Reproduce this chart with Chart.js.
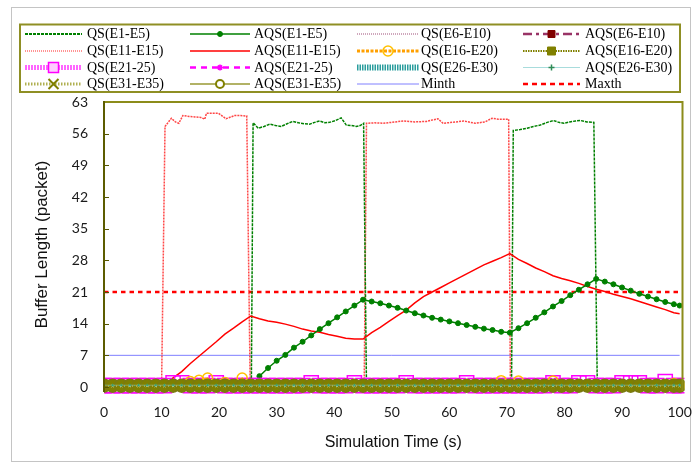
<!DOCTYPE html>
<html><head><meta charset="utf-8">
<script src="https://cdn.jsdelivr.net/npm/chart.js"></script>
<style>html,body{margin:0;padding:0;background:#fff}canvas{display:block}</style>
</head><body>
<canvas id="c" width="694" height="465"></canvas>
<script>
// ---------------- DATA ----------------
const seriesNames = ["QS(E1-E5)","AQS(E1-E5)","QS(E6-E10)","AQS(E6-E10)","QS(E11-E15)","AQS(E11-E15)","QS(E16-E20)","AQS(E16-E20)","QS(E21-25)","AQS(E21-25)","QS(E26-E30)","AQS(E26-E30)","QS(E31-E35)","AQS(E31-E35)","Minth","Maxth"];
const xTickValues = [0,10,20,30,40,50,60,70,80,90,100];
const yTickValues = [0,7,14,21,28,35,42,49,56,63];

// sampling times of the averaged-queue / near-zero series (s)
const tSample = [0,1.5,3,4.5,6,7.5,9,10.5,12,13.5,15,16.5,18,19.5,21,22.5,24,25.5,27,28.5,30,31.5,33,34.5,36,37.5,39,40.5,42,43.5,45,46.5,48,49.5,51,52.5,54,55.5,57,58.5,60,61.5,63,64.5,66,67.5,69,70.5,72,73.5,75,76.5,78,79.5,81,82.5,84,85.5,87,88.5,90,91.5,93,94.5,96,97.5,99,100];
const tCoarse = [0,10,20,30,40,50,60,70,80,90,100];

// QS(E1-E5)
const qsE1E5_t = [0,25.6,25.9,26.8,27.8,28.8,29.8,30.8,31.8,32.8,33.8,34.8,35.7,36.6,37.5,38.4,39.2,40.2,41.2,42.1,43.0,43.8,44.5,45.1,45.6,70.8,71.1,72.3,73.5,74.6,75.8,77.0,78.1,79.0,79.9,80.9,81.9,82.8,83.9,85.1,85.7,100];
const qsE1E5_v = [0,0,58.4,57.2,57.6,58.1,57.8,57.6,58.2,58.7,58.4,58.2,58.1,58.5,58.8,58.4,58.5,58.9,59.5,57.9,57.8,57.6,57.8,58.3,0,0,56.7,56.9,57.2,57.6,57.9,58.5,58.9,58.5,58.3,58.6,58.8,58.9,58.6,58.5,0,0];
// AQS(E1-E5)
const aqsE1E5 = [0,0,0,0,0,0,0,0,0,0,0,0,0,0,0,0,0,0,2.4,4.2,5.8,7.1,8.7,10.0,11.4,12.8,14.1,15.4,16.7,18.0,19.3,18.9,18.5,18.0,17.5,16.9,16.3,15.8,15.3,14.9,14.5,14.1,13.7,13.3,12.9,12.6,12.2,12.0,13.0,14.1,15.3,16.5,17.8,19.0,20.3,21.5,22.7,23.9,23.3,22.7,22.0,21.3,20.6,20.0,19.4,18.8,18.3,18.0];
// QS(E6-E10), AQS(E6-E10)
const qsE6E10 = [0,0,0,0,0,0,0,0,0,0,0];
const aqsE6E10 = [0,0,0,0,0,0,0,0,0,0,0];
// QS(E11-E15)
const qsE11E15_t = [0,10.0,10.6,11.7,12.4,13.0,13.7,14.8,15.8,16.8,17.5,17.8,18.8,19.9,21.2,22.7,23.7,24.8,25.4,45.2,45.6,47.0,48.5,50.0,52.0,54.0,56.0,58.0,58.9,60.5,62.5,64.5,66.2,67.4,68.5,70.3,70.6,100];
const qsE11E15_v = [0,0,57.6,59.4,58.6,58.3,60.0,59.8,59.7,59.6,59.2,60.5,60.5,60.5,59.3,60.0,60.0,59.9,0,0,58.3,58.4,58.3,58.5,58.8,58.6,58.7,59.3,58.3,58.5,58.8,58.3,58.6,59.4,59.2,59.2,0,0];
// AQS(E11-E15)
const aqsE11E15 = [0,0,0,0,0,0,0,0.3,2.0,3.4,5.2,6.8,8.4,10.0,11.7,13.0,14.4,15.7,15.1,14.6,14.3,13.9,13.4,12.8,12.4,12.1,11.6,11.2,10.8,10.6,10.6,12.0,13.2,14.5,15.8,17.0,18.6,20.0,21.0,22.0,23.0,24.0,25.0,26.0,27.0,27.8,28.6,29.5,28.2,27.3,26.3,25.5,24.6,24.0,23.5,22.9,22.2,21.6,21.1,20.5,20.0,19.5,18.9,18.3,17.7,17.1,16.4,16.2];
// QS(E16-E20), AQS(E16-E20)
const qsE16E20 = [0.3,0.3,0.3,0.3,0.3,0.3,0.3,0.3,0.3,0.3,1.2,1.5,2.0,0.3,1.0,0.3,2.0,0.3,0.3,0.3,0.3,0.3,0.3,0.3,0.3,0.3,0.3,0.3,0.3,0.3,0.3,0.3,0.3,0.3,0.3,0.3,0.3,0.3,0.3,0.3,0.3,0.3,0.3,0.3,0.3,0.3,1.4,0.3,1.3,0.3,0.3,0.3,1.3,0.3,0.3,0.3,0.3,0.3,0.3,0.3,0.3,0.3,0.3,0.3,0.3,0.3,0.8,0.3];
const aqsE16E20 = [0,0,0,0,0,0,0,0,0,0,0];
// QS(E21-25), AQS(E21-25)
const qsE21E25 = [0.3,0.3,0.3,0.3,0.3,0.3,0.3,0.3,0.9,0.9,0.3,0.3,0.3,0.9,0.3,0.3,0.3,0.3,0.3,0.3,0.3,0.3,0.3,0.3,0.9,0.3,0.3,0.3,0.3,0.9,0.3,0.3,0.3,0.3,0.3,0.9,0.3,0.3,0.3,0.3,0.3,0.3,0.9,0.3,0.3,0.3,0.3,0.3,0.3,0.3,0.3,0.3,0.9,0.3,0.3,0.9,0.9,0.3,0.3,0.3,0.9,0.9,0.9,0.3,0.3,1.2,0.3,0.3];
const aqsE21E25 = [0,0,0,0,0,0,0,0,0,0,0];
// QS(E26-E30), AQS(E26-E30)
const qsE26E30 = [0.3,0.3,0.3,0.3,0.3,0.3,0.3,0.3,0.3,0.3,0.3];
const aqsE26E30 = [0.4,0.4,0.4,0.4,0.4,0.4,0.4,0.4,0.4,0.4,0.4,0.4,0.4,0.4,0.4,0.4,0.4,0.4,0.4,0.4,0.4,0.4,0.4,0.4,0.4,0.4,0.4,0.4,0.4,0.4,0.4,0.4,0.4,0.4,0.4,0.4,0.4,0.4,0.4,0.4,0.4,0.4,0.4,0.4,0.4,0.4,0.4,0.4,0.4,0.4,0.4,0.4,0.4,0.4,0.4,0.4,0.4,0.4,0.4,0.4,0.4,0.4,0.4,0.4,0.4,0.4,0.4,0.4];
// QS(E31-E35), AQS(E31-E35)
const qsE31E35 = [0.2,0.2,0.2,0.2,0.2,0.2,0.2,0.2,0.2,0.2,0.2,0.2,0.2,0.2,0.2,0.2,0.2,0.2,0.2,0.2,0.2,0.2,0.2,0.2,0.2,0.2,0.2,0.2,0.2,0.2,0.2,0.2,0.2,0.2,0.2,0.2,0.2,0.2,0.2,0.2,0.2,0.2,0.2,0.2,0.2,0.2,0.2,0.2,0.2,0.2,0.2,0.2,0.2,0.2,0.2,0.2,0.2,0.2,0.2,0.2,0.2,0.2,0.2,0.2,0.2,0.2,0.2,0.2];
const aqsE31E35 = [0.3,0.3,0.3,0.3,0.3,0.3,0.3,0.3,0.3,0.3,0.3,0.3,0.3,0.3,0.3,0.3,0.3,0.3,0.3,0.3,0.3,0.3,0.3,0.3,0.3,0.3,0.3,0.3,0.3,0.3,0.3,0.3,0.3,0.3,0.3,0.3,0.3,0.3,0.3,0.3,0.3,0.3,0.3,0.3,0.3,0.3,0.3,0.3,0.3,0.3,0.3,0.3,0.3,0.3,0.3,0.3,0.3,0.3,0.3,0.3,0.3,0.3,0.3,0.3,0.3,0.3,0.3,0.3];
// thresholds
const thT = [0,100];
const minthV = [7,7];
const maxthV = [21,21];

// ---------------- STYLES ----------------
const legendStyles = [
  {color:'#008000', w:2, dash:[3,1]},
  {color:'#008000', w:1.5, dash:[], m:{s:'circle', r:2.5, fill:'#008000', stroke:'#008000', lw:1}},
  {color:'#a0507a', w:1, dash:[1,1]},
  {color:'#993366', w:2.5, dash:[9,4,3,4], m:{s:'rect', r:3.5, fill:'#800000', stroke:'#800000', lw:1}},
  {color:'#ff7070', w:1.5, dash:[1,1]},
  {color:'#ff0000', w:1.5, dash:[]},
  {color:'#ffa000', w:3, dash:[3,1.5], m:{s:'circle', r:5, fill:null, stroke:'#ffc000', lw:1.5}},
  {color:'#808000', w:2, dash:[1.5,1], m:{s:'rect', r:4, fill:'#808000', stroke:'#808000', lw:1}},
  {color:'#ff66ff', w:5, dash:[2,1], m:{s:'rect', r:5, fill:'#ffccff', stroke:'#ff00ff', lw:1.5}},
  {color:'#ff00ff', w:2.5, dash:[6,5], m:{s:'star', r:3, fill:null, stroke:'#ff00ff', lw:1.5}},
  {color:'#2a9d9d', w:6, dash:[1.5,1]},
  {color:'#a8dcdc', w:1, dash:[], m:{s:'cross', r:3, fill:null, stroke:'#2e8b57', lw:1.5}},
  {color:'#b0b050', w:3, dash:[1.5,1.5], m:{s:'crossRot', r:5, fill:null, stroke:'#808000', lw:2}},
  {color:'#999933', w:1.5, dash:[], m:{s:'circle', r:4, fill:'#ffffff', stroke:'#808000', lw:2}},
  {color:'#8080ff', w:1, dash:[]},
  {color:'#ff0000', w:2.5, dash:[5,4]}
];

function pts(xs, ys){ return xs.map((x,i)=>({x:x, y:ys[i]})); }
const bandClip = {left:0, right:2, top:20, bottom:12};

const datasets = [
  {label:seriesNames[0], data:pts(qsE1E5_t, qsE1E5_v), borderColor:'#008000', borderWidth:1.5, borderDash:[3,1], pointRadius:0, order:7},
  {label:seriesNames[1], data:pts(tSample, aqsE1E5), borderColor:'#008000', borderWidth:1.5, pointRadius:2.5, pointStyle:'circle', pointBackgroundColor:'#008000', pointBorderColor:'#008000', pointBorderWidth:1, order:5},
  {label:seriesNames[2], data:pts(tCoarse, qsE6E10), borderColor:'#a0507a', borderWidth:1, pointRadius:0, order:4},
  {label:seriesNames[3], data:pts(tCoarse, aqsE6E10), borderColor:'#993366', borderWidth:2, pointRadius:0, order:4},
  {label:seriesNames[4], data:pts(qsE11E15_t, qsE11E15_v), borderColor:'rgba(255,50,50,0.9)', borderWidth:1.5, borderDash:[2,1], pointRadius:0, order:8},
  {label:seriesNames[5], data:pts(tSample, aqsE11E15), borderColor:'#ff0000', borderWidth:1.5, pointRadius:0, order:6},
  {label:seriesNames[6], data:pts(tSample, qsE16E20), borderColor:'#ffa000', borderWidth:1.5, pointRadius:5, pointStyle:'circle', pointBackgroundColor:'rgba(0,0,0,0)', pointBorderColor:'#ffc000', pointBorderWidth:1.5, order:3, clip:bandClip},
  {label:seriesNames[7], data:pts(tCoarse, aqsE16E20), borderColor:'#808000', borderWidth:2, pointRadius:0, order:4},
  {label:seriesNames[8], data:pts(tSample, qsE21E25), borderColor:'#ff00ff', borderWidth:2, pointRadius:10, pointStyle:'rect', pointBackgroundColor:'rgba(255,255,255,0)', pointBorderColor:'#ff00ff', pointBorderWidth:1.5, order:3.5, clip:bandClip},
  {label:seriesNames[9], data:pts(tCoarse, aqsE21E25), borderColor:'#ff00ff', borderWidth:2, pointRadius:0, order:4},
  {label:seriesNames[10], data:pts(tCoarse, qsE26E30), borderColor:'rgba(64,184,184,0.7)', borderWidth:1, borderDash:[1,4], pointRadius:0, order:1, clip:bandClip},
  {label:seriesNames[11], data:pts(tSample, aqsE26E30), borderColor:'rgba(160,220,220,0.4)', borderWidth:1, pointRadius:1.5, pointStyle:'cross', pointBorderColor:'#3aa070', pointBorderWidth:1, order:1, clip:bandClip},
  {label:seriesNames[12], data:pts(tSample, qsE31E35), borderColor:'rgba(215,215,150,0.8)', borderWidth:1, borderDash:[1,3], pointRadius:1.5, pointStyle:'crossRot', pointBorderColor:'#d8d8a8', pointBorderWidth:1, order:1, clip:bandClip},
  {label:seriesNames[13], data:pts(tSample, aqsE31E35), borderColor:'#808000', borderWidth:2, pointRadius:6.5, pointStyle:'circle', pointBackgroundColor:'#808000', pointBorderColor:'#7a7a10', pointBorderWidth:1.5, order:2, clip:bandClip},
  {label:seriesNames[14], data:pts(thT, minthV), borderColor:'#7f7fff', borderWidth:1, pointRadius:0, order:9},
  {label:seriesNames[15], data:pts(thT, maxthV), borderColor:'#ff0000', borderWidth:2.5, borderDash:[4.5,4], pointRadius:0, order:9}
];

// ---------------- DRAW HELPERS ----------------
function drawMarker(ctx, m, x, y){
  ctx.save();
  ctx.setLineDash([]);
  ctx.lineWidth = m.lw || 1;
  ctx.strokeStyle = m.stroke || m.fill;
  ctx.beginPath();
  const r = m.r;
  if (m.s === 'circle') { ctx.arc(x, y, r, 0, Math.PI*2); }
  else if (m.s === 'rect') { ctx.rect(x-r, y-r, 2*r, 2*r); }
  else if (m.s === 'cross') { ctx.moveTo(x-r,y); ctx.lineTo(x+r,y); ctx.moveTo(x,y-r); ctx.lineTo(x,y+r); }
  else if (m.s === 'crossRot') { ctx.moveTo(x-r,y-r); ctx.lineTo(x+r,y+r); ctx.moveTo(x+r,y-r); ctx.lineTo(x-r,y+r); }
  else if (m.s === 'star') { for (let k=0;k<4;k++){ const a=k*Math.PI/4; ctx.moveTo(x-r*Math.cos(a), y-r*Math.sin(a)); ctx.lineTo(x+r*Math.cos(a), y+r*Math.sin(a)); } }
  if (m.fill && (m.s==='circle' || m.s==='rect')) { ctx.fillStyle = m.fill; ctx.fill(); }
  ctx.stroke();
  ctx.restore();
}

const legendCols = [{sx:25, ex:82, tx:87}, {sx:190, ex:250, tx:254}, {sx:357, ex:419, tx:421}, {sx:523, ex:580, tx:585}];
const legendRows = [34, 51, 67.5, 84];

const decor = {
  id:'decor',
  beforeDraw(chart){
    const ctx = chart.ctx;
    ctx.save();
    ctx.fillStyle = '#ffffff';
    ctx.fillRect(0,0,chart.width,chart.height);
    ctx.strokeStyle = '#c4c4c4'; ctx.lineWidth = 1;
    ctx.strokeRect(11.5, 7.5, 679, 454);
    // legend box
    ctx.strokeStyle = '#8f8f24'; ctx.lineWidth = 2;
    ctx.strokeRect(20, 24.5, 660, 67.5);
    ctx.font = '14px "Liberation Serif", "Times New Roman", serif';
    ctx.textBaseline = 'middle';
    ctx.fillStyle = '#000';
    seriesNames.forEach((name, i) => {
      const col = legendCols[i % 4], y = legendRows[Math.floor(i / 4)];
      const st = legendStyles[i];
      ctx.save();
      ctx.strokeStyle = st.color; ctx.lineWidth = st.w; ctx.setLineDash(st.dash || []);
      ctx.beginPath(); ctx.moveTo(col.sx, y); ctx.lineTo(col.ex, y); ctx.stroke();
      ctx.restore();
      if (st.m) drawMarker(ctx, st.m, (col.sx + col.ex) / 2, y);
      ctx.fillStyle = '#000';
      ctx.fillText(name, col.tx, y + 0.5);
    });
    ctx.restore();
  },
  afterDatasetsDraw(chart){
    const {ctx, chartArea:a, scales:{y}} = chart;
    ctx.save();
    ctx.strokeStyle = '#555500'; ctx.lineWidth = 1;
    y.ticks.forEach(t => {
      const py = Math.round(y.getPixelForValue(t.value)) + 0.5;
      ctx.beginPath(); ctx.moveTo(a.left, py); ctx.lineTo(a.left + 5, py); ctx.stroke();
    });
    ctx.lineWidth = 2;
    ctx.strokeStyle = '#8c8c1a';
    ctx.beginPath(); ctx.moveTo(a.left, a.top); ctx.lineTo(a.right, a.top); ctx.lineTo(a.right, a.bottom + 4); ctx.stroke();
    ctx.strokeStyle = '#5c5c00';
    ctx.beginPath(); ctx.moveTo(a.left, a.top - 1); ctx.lineTo(a.left, a.bottom + 5); ctx.stroke();
    ctx.restore();
  }
};

const tickFont = {family:'Lato, "Open Sans", sans-serif', size:14};

new Chart(document.getElementById('c'), {
  type:'line',
  data:{datasets:datasets},
  options:{
    responsive:false,
    animation:false,
    events:[],
    layout:{padding:{top:102, right:11, left:0, bottom:0}},
    elements:{line:{tension:0, fill:false}},
    plugins:{legend:{display:false}, tooltip:{enabled:false}},
    scales:{
      x:{
        type:'linear', min:0, max:100.5,
        afterFit(s){ s.height = 78; s.paddingLeft = 0; s.paddingRight = 0; },
        afterBuildTicks(s){ s.ticks = xTickValues.map(v => ({value:v})); },
        grid:{display:false, drawTicks:false},
        border:{display:false},
        ticks:{font:tickFont, color:'#1a1a1a', padding:17, maxRotation:0, includeBounds:false},
        title:{display:true, text:'Simulation Time (s)', font:{family:'"Liberation Sans", Arial, sans-serif', size:16}, color:'#111', padding:{top:0, bottom:13}}
      },
      y:{
        type:'linear', min:0, max:63,
        afterFit(s){ s.width = 104; s.paddingTop = 0; s.paddingBottom = 0; },
        afterBuildTicks(s){ s.ticks = yTickValues.map(v => ({value:v})); },
        grid:{display:false, drawTicks:false},
        border:{display:false},
        ticks:{font:tickFont, color:'#1a1a1a', padding:16},
        title:{display:true, text:'Buffer Length (packet)', font:{family:'"Liberation Sans", Arial, sans-serif', size:17}, color:'#111', padding:{top:32, bottom:0}}
      }
    }
  },
  plugins:[decor]
});
</script>
</body></html>
